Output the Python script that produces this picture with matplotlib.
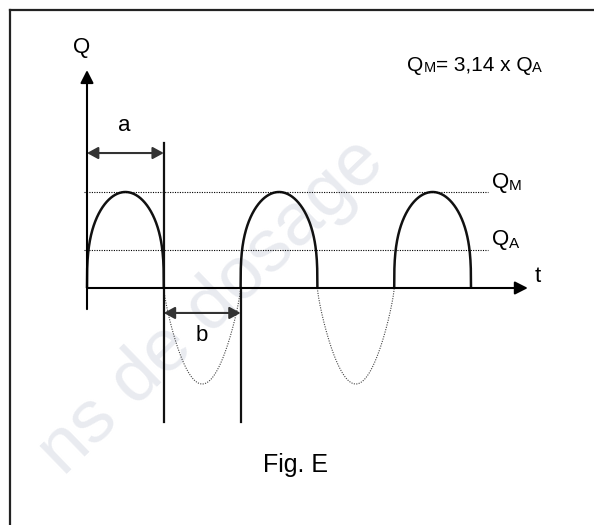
import numpy as np
import matplotlib.pyplot as plt
from matplotlib.lines import Line2D

plt.rcParams['font.family'] = ['Liberation Sans', 'DejaVu Sans']

# data (t in half periods, Q relative to Q_M)
pos_half_waves = [0, 2, 4]   # kept (solid) half waves start here
neg_half_waves = [1, 3]      # removed (dotted) half waves start here
Q_M = 1.0
Q_A = 0.4
level_values = [Q_M, Q_A]
level_labels = [("Q", "M"), ("Q", "A")]
formula_parts = ["Q", "M", "= 3,14 x Q", "A"]
period_marks = [("a", 0, 1), ("b", 1, 2)]   # label, t start, t end

# shape of the drawn half waves (hand drawn, fuller than a sine)
pos_shape = 0.33
neg_shape = 0.77

# axis extents
t_end = 5.74
q_top = 2.27
q_bottom = -0.22

fig = plt.figure(figsize=(5.94, 5.25), dpi=100)
ax = fig.add_axes([0, 0, 1, 1])
ax.set_xlim(-87 / 76.8, (594 - 87) / 76.8)
ax.set_ylim((288 - 525) / 96, 288 / 96)
ax.axis('off')

# faint watermark text
ax.text(1.62, -0.2, "ns de dosage", fontsize=54, color='#e9ebf0', rotation=44,
        ha='center', va='center', rotation_mode='anchor', zorder=0)

# frame (top and left only)
fig.add_artist(Line2D([10 / 594, 1], [1 - 10 / 525, 1 - 10 / 525], color='#222222', lw=1.6))
fig.add_artist(Line2D([10 / 594, 10 / 594], [0, 1 - 10 / 525], color='#222222', lw=1.6))

# axes arrows
head = "-|>,head_length=0.55,head_width=0.28"
ax.annotate("", xy=(0, q_top), xytext=(0, q_bottom),
            arrowprops=dict(arrowstyle=head, lw=1.5, color='black', mutation_scale=14,
                            shrinkA=0, shrinkB=0))
ax.annotate("", xy=(t_end, 0), xytext=(0, 0),
            arrowprops=dict(arrowstyle=head, lw=1.5, color='black', mutation_scale=14,
                            shrinkA=0, shrinkB=0))
ax.text(-0.065, 2.51, "Q", fontsize=16, ha='center', va='center')
ax.text(5.87, 0.115, "t", fontsize=16, ha='center', va='center')

# signal
for s in pos_half_waves:
    t = np.linspace(s, s + 1, 400)
    q = Q_M * np.abs(np.sin(np.pi * (t - s))) ** pos_shape
    ax.plot(t, q, color='#111111', lw=1.8, solid_capstyle='butt')
for s in neg_half_waves:
    t = np.linspace(s, s + 1, 400)
    q = -Q_M * np.abs(np.sin(np.pi * (t - s))) ** neg_shape
    ax.plot(t, q, color='#444444', lw=0.8, linestyle=(0, (1, 1.2)))

# Q_M and Q_A levels
for val, (main, sub) in zip(level_values, level_labels):
    ax.plot([-0.04, 5.22], [val, val], color='black', lw=0.8, linestyle=(0, (1, 1.2)))
    txt = ax.text(5.27, val + 0.1, main, fontsize=16, ha='left', va='center')
    ax.annotate(sub, xy=(1, 0), xycoords=txt, fontsize=11, ha='left', va='bottom')

# period markers a and b
ax.plot([1, 1], [1.51, -1.40], color='#111111', lw=1.6)
ax.plot([2, 2], [0, -1.40], color='#111111', lw=1.6)
for (label, t0, t1), q, ql in zip(period_marks, [1.406, -0.26], [1.69, -0.49]):
    ax.annotate("", xy=(t1, q), xytext=(t0, q),
                arrowprops=dict(arrowstyle="<|-|>,head_length=0.55,head_width=0.3", lw=1.5,
                                color='#333333', mutation_scale=12, shrinkA=0, shrinkB=0))
    ax.text((t0 + t1) / 2 - 0.01, ql, label, fontsize=16, ha='center', va='center')

# formula Q_M = 3,14 x Q_A
prev = ax.text(4.17, 2.32, formula_parts[0], fontsize=15, ha='left', va='center')
for i, part in enumerate(formula_parts[1:]):
    size = 10.5 if i % 2 == 0 else 15
    prev = ax.annotate(part, xy=(1, 0), xycoords=prev, fontsize=size, ha='left', va='bottom')

ax.text(2.71, -1.84, "Fig. E", fontsize=18, ha='center', va='center')

plt.savefig("out.png", dpi=100)
